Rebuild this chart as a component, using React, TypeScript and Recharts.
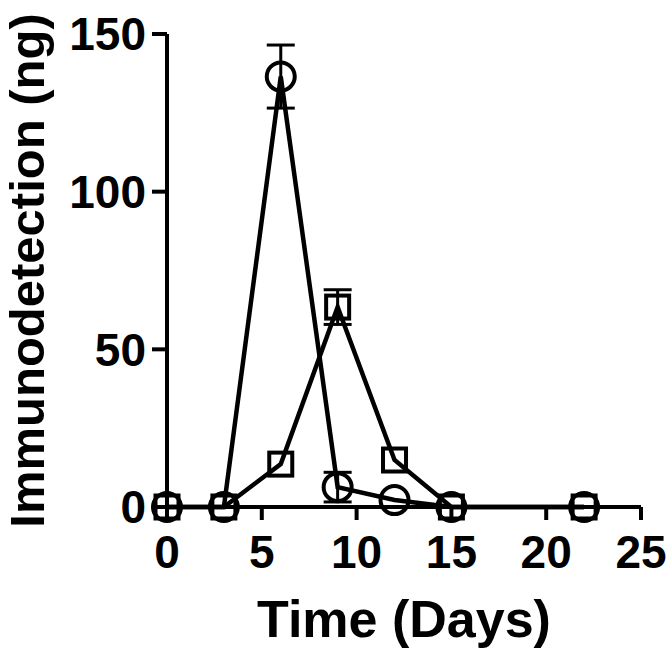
import React from 'react';
import { LineChart, Line, XAxis, YAxis, ErrorBar } from 'recharts';

const days = [0, 3, 6, 9, 12, 15, 22];
const circleValues = [0, 0, 136.5, 6.3, 2.2, 0, 0];
const circleErrors = [null, null, 10, 4.7, null, null, null];
const squareValues = [0, 0, 13.6, 63.4, 14.9, 0, 0];
const squareErrors = [null, null, null, 5.5, null, null, null];
const xTicks = [0, 5, 10, 15, 20, 25];
const yTicks = [0, 50, 100, 150];

const data = days.map((d, i) => ({
  day: d,
  circle: circleValues[i],
  circleErr: circleErrors[i],
  square: squareValues[i],
  squareErr: squareErrors[i],
}));

const FONT = '"Liberation Sans", Arial, sans-serif';
const tickStyle = { fontFamily: FONT, fontWeight: 700, fontSize: 46, fill: '#000' };

const SquareDot = (p: any) => {
  if (p.cx == null || p.cy == null) return <g key={p.index} />;
  const h = 11.5;
  return (
    <rect
      key={`sq-${p.index}`}
      x={p.cx - h}
      y={p.cy - h}
      width={h * 2}
      height={h * 2}
      fill="none"
      stroke="#000"
      strokeWidth={4}
    />
  );
};

export default function App() {
  return (
    <div style={{ position: 'absolute', left: 0, top: 0, background: '#fff' }}>
      <LineChart
        width={671}
        height={652}
        data={data}
        margin={{ top: 34, right: 30, left: 0, bottom: 0 }}
      >
        <XAxis
          type="number"
          dataKey="day"
          domain={[0, 25]}
          ticks={xTicks}
          height={145}
          tickSize={13}
          tickMargin={15}
          axisLine={{ stroke: '#000', strokeWidth: 4 }}
          tickLine={{ stroke: '#000', strokeWidth: 4 }}
          tick={tickStyle}
          label={{
            value: 'Time (Days)',
            position: 'insideBottom',
            offset: 15,
            style: { fontFamily: FONT, fontWeight: 700, fontSize: 52, fill: '#000' },
          }}
        />
        <YAxis
          type="number"
          domain={[0, 150]}
          ticks={yTicks}
          width={167}
          tickSize={15}
          tickMargin={6}
          axisLine={{ stroke: '#000', strokeWidth: 4 }}
          tickLine={{ stroke: '#000', strokeWidth: 4 }}
          tick={tickStyle}
          label={{
            value: 'Immunodetection (ng)',
            angle: -90,
            position: 'insideLeft',
            offset: 27,
            style: { fontFamily: FONT, fontWeight: 700, fontSize: 49, fill: '#000', textAnchor: 'middle' },
          }}
        />
        <Line
          type="linear"
          dataKey="square"
          stroke="#000"
          strokeWidth={4.5}
          dot={SquareDot}
          activeDot={false}
          isAnimationActive={false}
        >
          <ErrorBar dataKey="squareErr" direction="y" width={14} stroke="#000" strokeWidth={3} />
        </Line>
        <Line
          type="linear"
          dataKey="circle"
          stroke="#000"
          strokeWidth={4.5}
          dot={{ r: 14, fill: 'none', stroke: '#000', strokeWidth: 4 }}
          activeDot={false}
          isAnimationActive={false}
        >
          <ErrorBar dataKey="circleErr" direction="y" width={14} stroke="#000" strokeWidth={3} />
        </Line>
      </LineChart>
    </div>
  );
}
